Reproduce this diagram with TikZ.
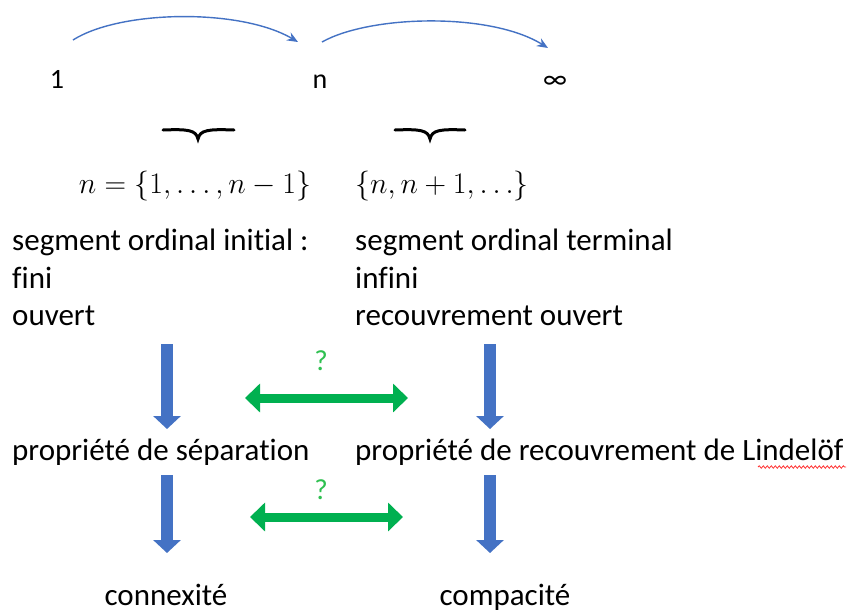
\documentclass[tikz,border=0pt]{standalone}
\usepackage{graphicx}
\usepackage{fontspec}
\setmainfont{Carlito}[Ligatures=NoCommon]
\usetikzlibrary{arrows.meta,decorations.pathmorphing}
\definecolor{oblue}{HTML}{4472C4}
\definecolor{ogreen}{HTML}{00B050}
\definecolor{qgreen}{HTML}{2EC050}
\tikzset{
  txt/.style={inner sep=0pt,anchor=base west,font=\fontsize{31}{36}\selectfont},
  ctxt/.style={inner sep=0pt,anchor=base,font=\fontsize{31}{36}\selectfont},
  top/.style={inner sep=0pt,anchor=base,font=\fontsize{28}{32}\selectfont},
  mth/.style={inner sep=0pt,anchor=base,font=\fontsize{24.88}{30}\selectfont},
  arc/.style={draw=oblue,line width=1.4pt,-{Stealth[length=11pt,width=9pt]}},
  bluearr/.style={draw=oblue,line width=12pt,-{Triangle[width=27pt,length=13pt]}},
  greenarr/.style={draw=ogreen,line width=9pt,{Triangle[width=28pt,length=15pt]}-{Triangle[width=28pt,length=15pt]}},
  brc/.style={draw=black,line width=3pt,line cap=round},
  qm/.style={inner sep=0pt,anchor=base,text=qgreen,font=\fontsize{29}{32}\selectfont}
}
\begin{document}
\begin{tikzpicture}[x=1pt,y=-1pt]
\useasboundingbox[fill=white] (0,0) rectangle (848,614);
% top row
\node[top] (one) at (57,88) {1};
\node[top] (nn) at (320,88) {n};
\node[top] (inf) at (555,88) {∞};
\coordinate (a1s) at (73,40);
\coordinate (a1e) at (298,42);
\coordinate (a2s) at (322,42);
\coordinate (a2e) at (548,48);
\draw[arc] (a1s) .. controls (120,10) and (240,8) .. (a1e);
\draw[arc] (a2s) .. controls (370,15) and (490,12) .. (a2e);
% braces
\coordinate (b1l) at (163,130);
\coordinate (b1t) at (198,139);
\coordinate (b1r) at (234,130);
\coordinate (b2l) at (395,130);
\coordinate (b2t) at (430,139);
\coordinate (b2r) at (465,130);
\draw[brc] (b1l) .. controls (188,129) and (196,130) .. (b1t) .. controls (200,130) and (208,129) .. (b1r);
\draw[brc] (b2l) .. controls (420,129) and (428,130) .. (b2t) .. controls (432,130) and (440,129) .. (b2r);
% math
\node[mth] (m1) at (195,193) {\scalebox{1.2}{$n=\{1,\ldots,n-1\}$}};
\node[mth] (m2) at (442,193) {\scalebox{1.2}{$\{n,n+1,\ldots\}$}};
% columns
\node[txt] (l1) at (12,250) {segment ordinal initial :};
\node[txt] (l2) at (12,288) {fini};
\node[txt] (l3) at (12,325) {ouvert};
\node[txt] (r1) at (355,250) {segment ordinal terminal};
\node[txt] (r2) at (355,288) {infini};
\node[txt] (r3) at (355,325) {recouvrement ouvert};
% first arrows
\coordinate (d1s) at (167,344);
\coordinate (d1e) at (167,429);
\coordinate (d2s) at (490,344);
\coordinate (d2e) at (490,429);
\draw[bluearr] (d1s) -- (d1e);
\draw[bluearr] (d2s) -- (d2e);
\coordinate (g1l) at (245,398);
\coordinate (g1r) at (408,398);
\draw[greenarr] (g1l) -- (g1r);
\node[qm] (q1) at (321,370) {?};
% middle row
\node[txt] (ps) at (12,460) {propriété de séparation};
\node[txt] (pl) at (355,460) {propriété de recouvrement de Lindelöf};
\coordinate (wl) at (758,467);
\coordinate (wr) at (846,467);
\draw[red!80!white,line width=0.8pt,decorate,decoration={snake,amplitude=1.2pt,segment length=4pt}] (wl) -- (wr);
% second arrows
\coordinate (e1s) at (167,475);
\coordinate (e1e) at (167,553);
\coordinate (e2s) at (490,475);
\coordinate (e2e) at (490,553);
\draw[bluearr] (e1s) -- (e1e);
\draw[bluearr] (e2s) -- (e2e);
\coordinate (g2l) at (250,517);
\coordinate (g2r) at (403,517);
\draw[greenarr] (g2l) -- (g2r);
\node[qm] (q2) at (321,499) {?};
% bottom
\node[ctxt] (cx) at (166,605) {connexité};
\node[ctxt] (cp) at (505,605) {compacité};
\end{tikzpicture}
\end{document}
